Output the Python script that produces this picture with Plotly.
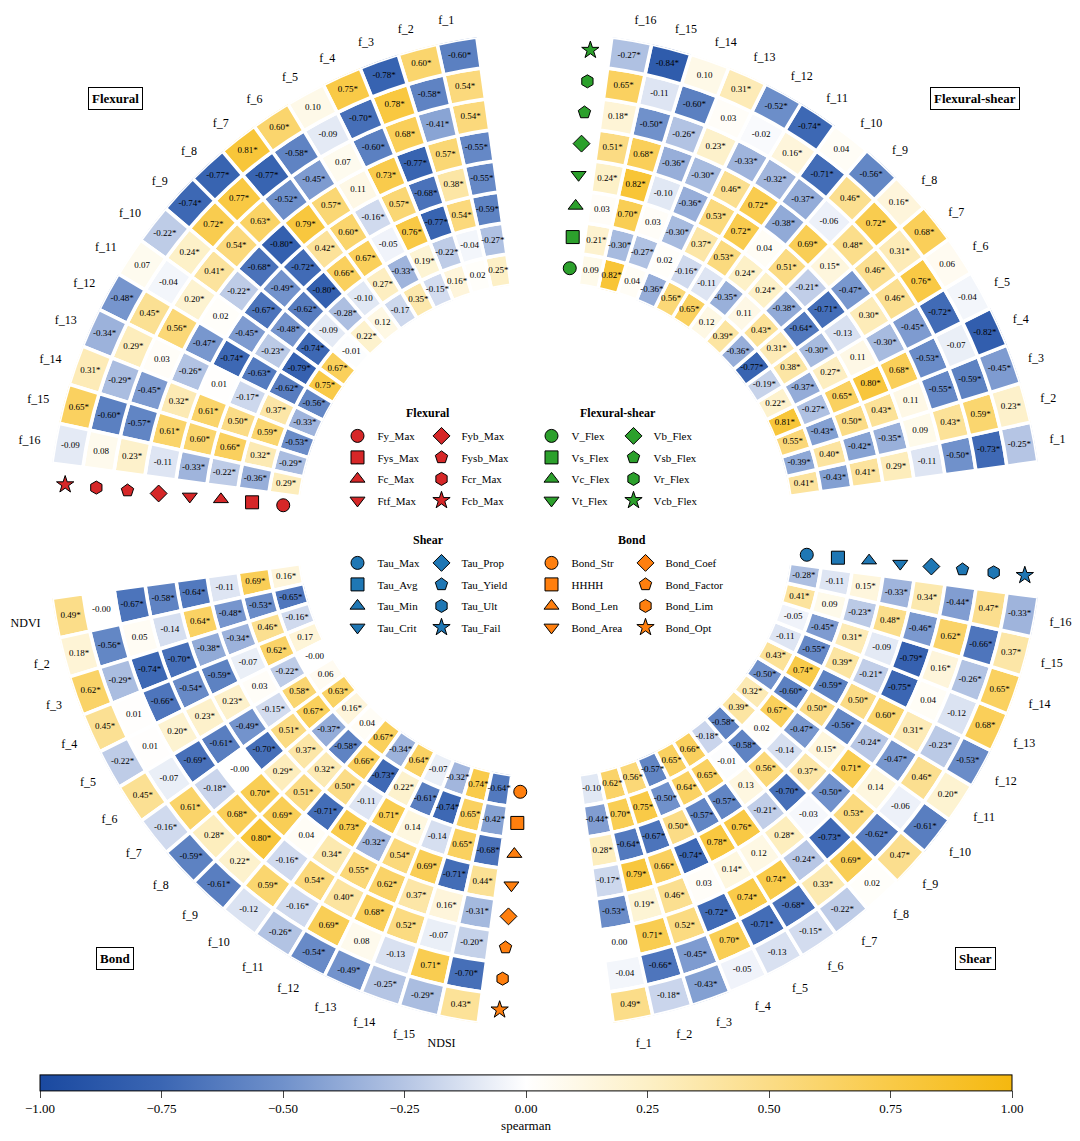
import plotly.graph_objects as go

# column labels per quadrant
features = [f"f_{i}" for i in range(1, 17)]
bond_features = ["NDVI"] + [f"f_{i}" for i in range(2, 16)] + ["NDSI"]

# ring variables, inner -> outer
flexural_vars = ["Fy_Max", "Fys_Max", "Fc_Max", "Ftf_Max", "Fyb_Max", "Fysb_Max", "Fcr_Max", "Fcb_Max"]
flexshear_vars = ["V_Flex", "Vs_Flex", "Vc_Flex", "Vt_Flex", "Vb_Flex", "Vsb_Flex", "Vr_Flex", "Vcb_Flex"]
shear_vars = ["Tau_Max", "Tau_Avg", "Tau_Min", "Tau_Crit", "Tau_Prop", "Tau_Yield", "Tau_Ult", "Tau_Fail"]
bond_vars = ["Bond_Str", "HHHH", "Bond_Len", "Bond_Area", "Bond_Coef", "Bond_Factor", "Bond_Lim", "Bond_Opt"]

# spearman r per ring (inner -> outer), 16 columns each; * = significant
flexural_vals = [
    "0.25* 0.02 0.16* -0.15* 0.35* -0.17 0.12 0.22* -0.01 0.67* 0.75* -0.56* -0.33* -0.53* -0.29* 0.29*",
    "-0.27* -0.04 -0.22* 0.19* -0.33* 0.27* -0.10 -0.28* -0.09 -0.74* -0.79* -0.62* 0.37* 0.59* 0.32* -0.36*",
    "-0.59* 0.54* -0.77* 0.76* -0.05 0.67* 0.66* -0.80* -0.62* -0.48* -0.23* -0.63* -0.17* 0.50* 0.66* -0.22*",
    "-0.55* 0.38* -0.68* 0.57* -0.16* 0.60* 0.42* -0.72* -0.49* -0.67* -0.45* -0.74* 0.01 0.61* 0.60* -0.33*",
    "-0.55* 0.57* -0.77* 0.73* 0.11 0.57* 0.79* -0.80* -0.68* -0.22* 0.02 -0.47* -0.26* 0.32* 0.61* -0.11",
    "0.54* -0.41* 0.68* -0.60* 0.07 -0.45* -0.52* 0.63* 0.54* 0.41* 0.20* 0.56* 0.03 -0.45* -0.57* 0.23*",
    "0.54* -0.58* 0.78* -0.70* -0.09 -0.58* -0.77* 0.77* 0.72* 0.24* -0.04 0.45* 0.29* -0.29* -0.60* 0.08",
    "-0.60* 0.60* -0.78* 0.75* 0.10 0.60* 0.81* -0.77* -0.74* -0.22* 0.07 -0.48* -0.34* 0.31* 0.65* -0.09",
]
flexshear_vals = [
    "0.41* -0.39* 0.55* 0.81* 0.22* -0.19* -0.77* -0.36* 0.39* 0.12 0.65* 0.56* -0.36* 0.04 0.82* 0.09",
    "-0.43* 0.40* -0.43* -0.27* -0.37* 0.38* 0.31* 0.43* 0.11 -0.35* -0.11 -0.16* 0.02 -0.27* -0.30* 0.21*",
    "0.41* -0.42* 0.50* 0.65* 0.27* -0.30* -0.64* -0.38* 0.24* 0.24* 0.53* 0.37* -0.30* 0.03 0.70* 0.03",
    "0.29* -0.35* 0.43* 0.80* 0.11 -0.13 -0.71* -0.21* 0.51* 0.04 0.72* 0.53* -0.36* -0.10 0.82* 0.24*",
    "-0.11 0.09 0.11 0.68* -0.30* 0.30* -0.47* 0.15* 0.69* -0.38* 0.72* 0.46* -0.30* -0.36* 0.68* 0.51*",
    "-0.50* 0.43* -0.55* -0.53* -0.45* 0.46* 0.46* 0.48* -0.06 -0.37* -0.32* -0.33* 0.23* -0.26* -0.50* 0.18*",
    "-0.73* 0.59* -0.59* -0.07 -0.72* 0.76* 0.31* 0.72* 0.46* -0.71* 0.16* -0.02 0.03 -0.60* -0.11 0.65*",
    "-0.25* 0.23* -0.45* -0.82* -0.04 0.06 0.68* 0.16* -0.56* 0.04 -0.74* -0.52* 0.31* 0.10 -0.84* -0.27*",
]
bond_vals = [
    "0.16* -0.65* -0.16* 0.17 -0.00 0.06 0.63* 0.16* 0.04 0.67* -0.34* 0.64* -0.07 -0.32* 0.74* -0.64*",
    "0.69* -0.53* 0.46* 0.62* -0.22* 0.58* 0.67* -0.37* -0.58* 0.66* -0.73* 0.22* -0.61* -0.74* 0.65* -0.42*",
    "-0.11 -0.48* -0.34* -0.07 0.03 -0.15* 0.51* 0.37* 0.32* 0.50* -0.11 0.71* 0.14 -0.14 0.65* -0.68*",
    "-0.64* 0.64* -0.38* -0.59* 0.23* -0.49* -0.70* 0.29* 0.51* -0.71* 0.73* -0.32* 0.54* 0.69* -0.71* 0.44*",
    "-0.58* -0.14 -0.70* -0.54* 0.23* -0.61* -0.00 0.70* 0.69* 0.04 0.34* 0.55* 0.62* 0.37* 0.16* -0.31*",
    "-0.67* 0.05 -0.74* -0.66* 0.20* -0.69* -0.18* 0.68* 0.80* -0.16* 0.54* 0.40* 0.68* 0.52* -0.07 -0.20*",
    "-0.00 -0.56* -0.29* 0.01 0.01 -0.07 0.61* 0.28* 0.22* 0.59* -0.16* 0.69* 0.08 -0.13 0.71* -0.70*",
    "0.49* 0.18* 0.62* 0.45* -0.22* 0.45* -0.16* -0.59* -0.61* -0.12 -0.26* -0.54* -0.49* -0.25* -0.29* 0.43*",
]
shear_vals = [
    "-0.10 0.62* 0.56* -0.57* 0.65* 0.66* -0.18* -0.58* 0.39* 0.32* -0.50* 0.43* -0.11 -0.05 0.41* -0.28*",
    "-0.44* 0.70* 0.75* -0.50* 0.64* 0.65* -0.01 -0.58* 0.02 0.67* -0.60* 0.74* -0.55* -0.45* 0.09 -0.11",
    "0.28* -0.64* -0.67* 0.50* -0.57* -0.57* 0.13 0.56* -0.14 -0.47* 0.50* -0.59* 0.39* 0.31* -0.23* 0.15*",
    "-0.17* 0.79* 0.66* -0.74* 0.78* 0.76* -0.21* -0.70* 0.37* 0.15* -0.56* 0.50* -0.21* -0.09 0.48* -0.33*",
    "-0.53* 0.19* 0.46* 0.03 0.14* 0.12 0.28* -0.03 -0.50* 0.71* -0.24* 0.60* -0.75* -0.79* -0.46* 0.34*",
    "0.00 0.71* 0.52* -0.72* 0.74* 0.74* -0.24* -0.73* 0.53* 0.14 -0.47* 0.31* 0.04 0.16* 0.62* -0.44*",
    "-0.04 -0.66* -0.45* 0.70* -0.71* -0.68* 0.33* 0.69* -0.62* -0.06 0.46* -0.23* -0.12 -0.26* -0.66* 0.47*",
    "0.49* -0.18* -0.43* -0.05 -0.13 -0.15* -0.22* 0.02 0.47* -0.61* 0.20* -0.53* 0.68* 0.65* 0.37* -0.33*",
]

symbols = ["circle", "square", "triangle-up", "triangle-down", "diamond", "pentagon", "hexagon", "star"]

# name, vars, values, colour, start angle of quadrant, column labels, legend slot
groups = [
    ("Flexural", flexural_vars, flexural_vals, "#d62728", 90, features, 0),
    ("Flexural-shear", flexshear_vars, flexshear_vals, "#2ca02c", 0, features, 1),
    ("Shear", shear_vars, shear_vals, "#1f77b4", 270, features, 2),
    ("Bond", bond_vars, bond_vals, "#ff7f0e", 180, bond_features, 3),
]

STEP = 4.65      # angular width of one column
OFFSET = 10.2    # first column offset inside a quadrant
MARK = 84.6      # marker column

colorscale = [
    [0.0, "#1a49a0"], [0.125, "#3b66b3"], [0.25, "#7091cb"], [0.375, "#b5c5e4"],
    [0.5, "#ffffff"], [0.625, "#fdf0c6"], [0.75, "#fbdc86"], [0.875, "#f9ca47"], [1.0, "#f5b80f"],
]

fig = go.Figure()
tickvals, ticktext = [], []

for name, vars_, rows, color, start, labels, slot in groups:
    thetas = [start + OFFSET + j * STEP for j in range(16)]
    tickvals += thetas
    ticktext += labels
    th, base, val, txt = [], [], [], []
    for k, row in enumerate(rows):
        for j, s in enumerate(row.split()):
            th.append(thetas[j])
            base.append(k)
            val.append(float(s.rstrip("*")))
            txt.append(s)
    fig.add_trace(go.Barpolar(
        theta=th, r=[1] * len(th), base=base, width=STEP,
        marker=dict(color=val, coloraxis="coloraxis", line=dict(color="white", width=3.5)),
        showlegend=False, hoverinfo="skip",
    ))
    fig.add_trace(go.Scatterpolar(
        theta=th, r=[b + 0.5 for b in base], mode="text", text=txt,
        textfont=dict(size=9, color="black", family="Liberation Serif"),
        showlegend=False, hoverinfo="skip",
    ))
    for k, v in enumerate(vars_):
        leg_idx = slot * 2 + (k // 4) + 1
        fig.add_trace(go.Scatterpolar(
            theta=[start + MARK], r=[k + 0.5], mode="markers", name=v,
            marker=dict(symbol=symbols[k], size=13, color=color, line=dict(color="black", width=1)),
            legend="legend" if leg_idx == 1 else f"legend{leg_idx}",
            legendgroup=v, hoverinfo="skip",
        ))

W, H = 1080, 1141
PAD = 8  # page margin of the html body


def px(x):
    return (x - PAD) / W


def py(y):
    return 1 - (y - PAD) / H


# legend columns: (marker x, first row y) in pixels
legend_pos = [(357, 436), (441, 436), (551, 436), (633, 436),
              (357, 563), (441, 563), (551, 563), (645, 563)]
legends = {}
for i, (mx, my) in enumerate(legend_pos):
    key = "legend" if i == 0 else f"legend{i + 1}"
    legends[key] = dict(
        x=px(mx - 19.5), y=py(my - 14.6), xanchor="left", yanchor="top",
        bgcolor="rgba(0,0,0,0)", font=dict(size=11, family="Liberation Serif", color="black"),
        tracegroupgap=2.5, traceorder="grouped",
    )

annotations = []
for text, x, y in [("Flexural", 428, 413), ("Flexural-shear", 618, 413),
                   ("Shear", 428, 540), ("Bond", 632, 540)]:
    annotations.append(dict(text=f"<b>{text}</b>", x=px(x), y=py(y), xref="paper", yref="paper",
                            xanchor="center", yanchor="middle", showarrow=False,
                            font=dict(size=12, family="Liberation Serif", color="black")))
for text, x, y in [("Flexural", 115, 98), ("Flexural-shear", 975, 98),
                   ("Bond", 115, 958), ("Shear", 975, 958)]:
    annotations.append(dict(text=f"<b>{text}</b>", x=px(x), y=py(y), xref="paper", yref="paper",
                            xanchor="center", yanchor="middle", showarrow=False,
                            bordercolor="black", borderwidth=1, borderpad=3, bgcolor="white",
                            font=dict(size=13, family="Liberation Serif", color="black")))

cx, cy, R = 545, 530, 497.6
fig.update_layout(
    width=W, height=H, margin=dict(l=0, r=0, t=0, b=0, autoexpand=False),
    paper_bgcolor="white", font=dict(family="Liberation Serif", color="black"),
    polar=dict(
        domain=dict(x=[px(cx - R), px(cx + R)], y=[py(cy + R), py(cy - R)]),
        hole=0.497, bgcolor="white", barmode="overlay",
        radialaxis=dict(range=[0, 8], visible=False),
        angularaxis=dict(tickmode="array", tickvals=tickvals, ticktext=ticktext,
                         showgrid=False, showline=False, ticks="outside", ticklen=12,
                         tickcolor="rgba(0,0,0,0)", direction="counterclockwise", rotation=0,
                         tickfont=dict(size=12, family="Liberation Serif", color="black")),
    ),
    coloraxis=dict(
        cmin=-1, cmax=1, colorscale=colorscale,
        colorbar=dict(orientation="h", x=px(526), xanchor="center", y=0.010, yanchor="bottom", ypad=4,
                      len=992 / W, thickness=16, outlinewidth=1, outlinecolor="black",
                      tickvals=[-1, -0.75, -0.5, -0.25, 0, 0.25, 0.5, 0.75, 1], tickformat=".2f",
                      ticks="outside", ticklen=7, tickfont=dict(size=13, family="Liberation Serif"),
                      title=dict(text="spearman", side="bottom", font=dict(size=13, family="Liberation Serif"))),
    ),
    annotations=annotations,
    **legends,
)

fig.write_html("out.html")
